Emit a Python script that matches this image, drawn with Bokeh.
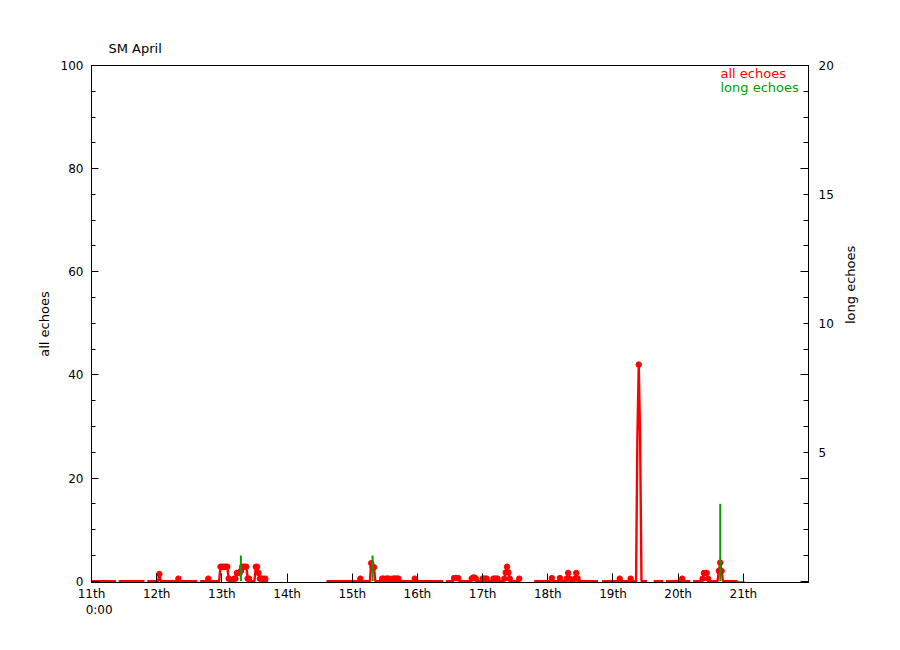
import math
import numpy as np
from bokeh.plotting import figure
from bokeh.models import Range1d, LinearAxis, FixedTicker, Label, ColumnDataSource
from bokeh.embed import file_html
from bokeh.resources import INLINE

# ---------------- data ----------------
title_text = "SM April"
bins_per_day = 48          # half-hour bins
first_day = 11
last_bin = 481             # data stop just after the 21st, 0:00

# non-zero "all echoes" bins (bin index from 11th 0:00) and values
all_bins = [50, 64, 86,
            95, 96, 97, 98, 99, 100, 101,
            105, 106, 107, 108, 109, 110, 111, 112, 113, 114, 115, 116,
            121, 122, 123, 124, 125, 126, 128,
            198, 206, 207, 208,
            214, 215, 217, 218, 219, 222, 223, 224, 225, 226, 238,
            267, 268, 269, 270, 280, 281, 282, 283,
            288, 289, 290, 291, 296, 297, 298, 299,
            304, 305, 306, 307, 308, 315,
            339, 345, 350, 351, 352, 356, 357, 358,
            389, 397, 402, 403, 404, 435,
            450, 451, 452, 453, 454, 462, 463, 464,
            476, 477, 478, 479, 480, 481]
all_vals = [1.4, 0.5, 0.5,
            2.8, 2.8, 2.8, 2.8, 2.8, 2.8, 0.5,
            0.5, 0.5, 1.6, 1.6, 1.6, 2.0, 2.8, 2.8, 2.8, 2.8, 0.5, 0.5,
            2.8, 2.8, 1.6, 0.5, 0.5, 0.5, 0.5,
            0.5, 3.5, 2.7, 2.7,
            0.5, 0.5, 0.5, 0.5, 0.5, 0.5, 0.5, 0.5, 0.5, 0.5, 0.5,
            0.6, 0.6, 0.6, 0.6, 0.5, 0.7, 0.7, 0.5,
            0.5, 0.5, 0.5, 0.5, 0.5, 0.5, 0.5, 0.5,
            0.5, 1.7, 2.8, 1.7, 0.5, 0.5,
            0.6, 0.6, 0.5, 1.6, 0.5, 0.5, 1.6, 0.5,
            0.5, 0.5, 28, 42, 28, 0.5,
            0.5, 1.6, 1.6, 1.6, 0.5, 2.0, 3.6, 2.0,
            -0.25, -0.25, -0.25, -0.25, -0.25, -0.25]

# bins with no data (breaks in the red line)
gap_bins = [19, 40, 79] + list(range(131, 173)) + [260] + list(range(317, 326)) \
           + [374, 375] + list(range(410, 414)) + [422, 442]

# "long echoes" (right axis)
long_bins = [110, 207, 463]
long_vals = [1, 1, 3]

day_ticks = [11, 12, 13, 14, 15, 16, 17, 18, 19, 20, 21]
day_labels = ["11th\n\u00a0\u00a0\u00a0\u00a00:00", "12th", "13th", "14th", "15th", "16th",
              "17th", "18th", "19th", "20th", "21th"]
left_ticks = [0, 20, 40, 60, 80, 100]
left_minor = list(range(0, 101, 5))
right_mark_ticks = [0, 4, 8, 12, 16, 20]
right_minor = list(range(0, 21))
right_label_ticks = [5, 10, 15, 20]
legend_names = ["all echoes", "long echoes"]
legend_colors = ["#ff0000", "#00a000"]

# ---------------- build series ----------------
vals = np.zeros(last_bin + 1)
for b, v in zip(all_bins, all_vals):
    vals[b] = v
for b in gap_bins:
    vals[b] = np.nan
t = first_day + np.arange(last_bin + 1) / bins_per_day
peak = np.nanmax(vals)
dot_mask = [(v > 0) and (v < 10 or v == peak) for v in vals]
dots_t = [tt for tt, m in zip(t, dot_mask) if m]
dots_v = [vv for vv, m in zip(vals, dot_mask) if m]
long_t = [first_day + b / bins_per_day for b in long_bins]

FONT = "DejaVu Sans"
Y_PAD = 0.25   # lift zero line a hair so the thick red baseline is not clipped

p = figure(frame_width=717, frame_height=517,
           x_range=Range1d(11, 22), y_range=Range1d(-Y_PAD, 100),
           output_backend="svg", toolbar_location=None,
           min_border_left=91, min_border_top=65, min_border_right=70,
           min_border_bottom=50, background_fill_color="white",
           border_fill_color="white", outline_line_color="black",
           x_axis_type=None, y_axis_type=None)
p.grid.visible = False
p.extra_y_ranges = {"long": Range1d(-Y_PAD / 5, 20)}

p.title.text = title_text
p.title.align = "left"
p.title.offset = 17
p.title.text_font = FONT
p.title.text_font_size = "13px"
p.title.text_font_style = "normal"
p.title.text_color = "black"
p.title.standoff = 19

def style(ax):
    ax.major_label_text_font = FONT
    ax.major_label_text_font_size = "12px"
    ax.major_label_text_color = "black"
    ax.axis_label_text_font = FONT
    ax.axis_label_text_font_size = "13px"
    ax.axis_label_text_font_style = "normal"
    ax.axis_label_text_color = "black"
    ax.axis_line_color = "black"
    ax.major_tick_line_color = "black"
    ax.minor_tick_line_color = "black"
    ax.major_tick_out = 0
    ax.minor_tick_out = 0

xax = LinearAxis(ticker=FixedTicker(ticks=day_ticks, minor_ticks=[]),
                 major_label_overrides={d: l for d, l in zip(day_ticks, day_labels)})
style(xax)
xax.major_tick_in = 9
xax.minor_tick_in = 0
xax.major_label_standoff = 4
p.add_layout(xax, "below")

yax = LinearAxis(ticker=FixedTicker(ticks=left_ticks, minor_ticks=left_minor),
                 axis_label="all echoes")
style(yax)
yax.major_tick_in = 7
yax.minor_tick_in = 4
yax.major_label_standoff = 8
yax.axis_label_standoff = 6
p.add_layout(yax, "left")

rA = LinearAxis(y_range_name="long",
                ticker=FixedTicker(ticks=right_mark_ticks, minor_ticks=right_minor),
                major_label_overrides={k: "" for k in right_mark_ticks})
style(rA)
rA.major_tick_in = 8
rA.minor_tick_in = 5
rA.major_label_standoff = 0
p.add_layout(rA, "right")

rB = LinearAxis(y_range_name="long",
                ticker=FixedTicker(ticks=right_label_ticks, minor_ticks=[]),
                axis_label="long echoes", axis_label_orientation=math.pi / 2)
style(rB)
rB.axis_line_color = None
rB.major_tick_line_color = None
rB.minor_tick_line_color = None
rB.major_tick_in = 0
rB.minor_tick_in = 0
rB.major_label_standoff = 10
rB.axis_label_standoff = 14
p.add_layout(rB, "right")

src = ColumnDataSource(dict(t=t, v=vals))
p.line("t", "v", source=src, line_color=legend_colors[0], line_width=2.4)
p.scatter(dots_t, dots_v, size=5.5, marker="circle",
          fill_color=legend_colors[0], line_color=legend_colors[0])
p.segment(x0=long_t, y0=[0] * len(long_t), x1=long_t, y1=long_vals,
          y_range_name="long", line_color=legend_colors[1], line_width=2)

# legend (text only, as in the reference)
lx = 11 + (720 - 91) / 717 * 11
for i, (name, col) in enumerate(zip(legend_names, legend_colors)):
    ly = 100 * (582 - (73 + 14 * i)) / 517
    p.add_layout(Label(x=lx, y=ly, text=name, text_color=col,
                       text_font=FONT, text_font_size="13px",
                       text_baseline="middle", text_align="left"))

open("out.html", "w").write(file_html(p, INLINE))
